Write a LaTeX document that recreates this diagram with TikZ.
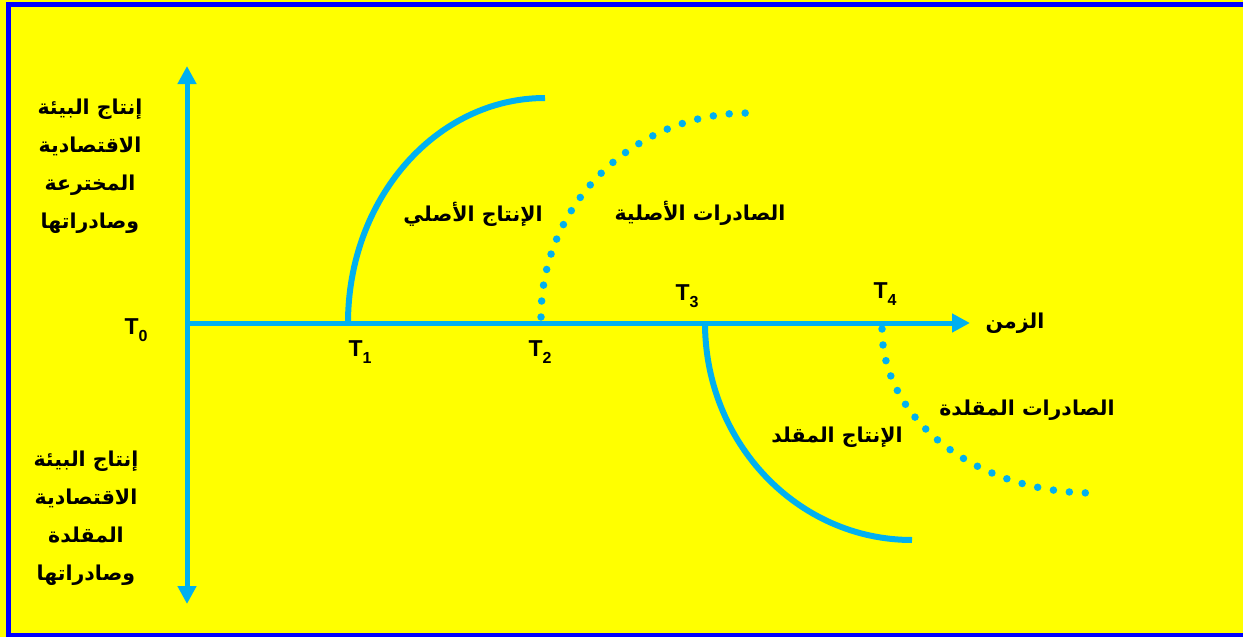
\documentclass[tikz,border=0pt]{standalone}
\usepackage{fontspec}
\setmainfont{Liberation Sans}
\newfontfamily\arabicfont[Script=Arabic]{DejaVu Sans}
\TeXXeTstate=1
\usetikzlibrary{arrows.meta}
\definecolor{axiscol}{HTML}{00B0F0}
\definecolor{bgcol}{HTML}{FFFF00}
\definecolor{framecol}{HTML}{0000FF}
\newcommand{\tlab}[1]{T\raisebox{-0.28em}{\fontsize{16}{16}\selectfont #1}}
\tikzset{
  axisline/.style={draw=axiscol, line width=5pt},
  solidarc/.style={draw=axiscol, line width=6pt},
  dotarc/.style={draw=axiscol, line width=7.5pt, line cap=round, dash pattern=on 0pt off 16pt},
  tip/.style={-{Triangle[width=18pt,length=18pt]}},
  tlabel/.style={font=\fontsize{23}{23}\selectfont\bfseries, inner sep=0pt},
  artext/.style={font=\fontsize{20.5}{38}\selectfont\arabicfont\bfseries, inner sep=0pt, align=center},
}
\begin{document}
\begin{tikzpicture}[x=1pt,y=1pt]
\useasboundingbox (0,0) rectangle (1243,-637);
\fill[bgcol] (0,0) rectangle (1243,-637);
\draw[framecol, line width=5pt] (8.5,-4.5) rectangle (1252,-635.5);
% axes
\coordinate (O) at (187,-323);
\coordinate (top) at (187,-66);
\coordinate (bot) at (187,-604);
\coordinate (right) at (970,-323);
\draw[axisline, {Triangle[width=18pt,length=18pt]}-{Triangle[width=18pt,length=18pt]}] (bot) -- (top);
\draw[axisline, tip] (O) -- (right);
% curves
\coordinate (t1) at (348,-323);
\coordinate (t2) at (541,-317);
\coordinate (t3) at (705,-323);
\coordinate (t4) at (882,-329);
\draw[solidarc] (t1) arc[start angle=180, end angle=90, x radius=197, y radius=225];
\draw[dotarc] (t2) arc[start angle=180, end angle=90, x radius=207, y radius=204];
\draw[solidarc] (t3) arc[start angle=180, end angle=270, x radius=207, y radius=217];
\draw[dotarc] (t4) arc[start angle=180, end angle=270, x radius=211, y radius=164];
% T labels
\node[tlabel] (T0) at (136,-330) {\tlab{0}};
\node[tlabel] (T1) at (360,-352) {\tlab{1}};
\node[tlabel] (T2) at (540,-352) {\tlab{2}};
\node[tlabel] (T3) at (687,-296) {\tlab{3}};
\node[tlabel] (T4) at (885,-294) {\tlab{4}};
% Arabic labels
\node[artext] (time) at (1015,-323) {\beginR الزمن\endR};
\node[artext] (op) at (473,-214) {\beginR الإنتاج الأصلي\endR};
\node[artext] (oe) at (700,-213) {\beginR الصادرات الأصلية\endR};
\node[artext] (ie) at (1027,-410) {\beginR الصادرات المقلدة\endR};
\node[artext] (ip) at (837,-437) {\beginR الإنتاج المقلد\endR};
\node[artext] (lt) at (90,-166) {\beginR إنتاج البيئة\endR\\\beginR الاقتصادية\endR\\\beginR المخترعة\endR\\\beginR وصادراتها\endR};
\node[artext] (lb) at (86,-518) {\beginR إنتاج البيئة\endR\\\beginR الاقتصادية\endR\\\beginR المقلدة\endR\\\beginR وصادراتها\endR};
\end{tikzpicture}
\end{document}
